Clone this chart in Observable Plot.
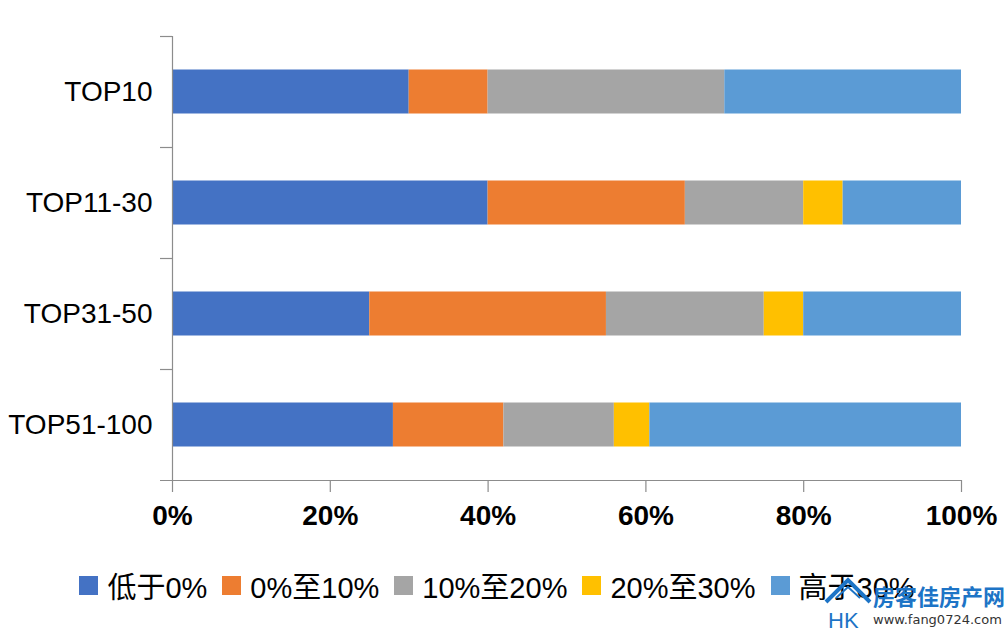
<!DOCTYPE html>
<html>
<head>
<meta charset="utf-8">
<script src="https://cdn.jsdelivr.net/npm/d3@7"></script>
<script src="https://cdn.jsdelivr.net/npm/@observablehq/plot@0.6"></script>
<style>
  body { margin: 0; background: #fff; font-family: "Liberation Sans", Arial, "Noto Sans CJK SC", sans-serif; }
  #wrap { position: relative; width: 1004px; height: 632px; overflow: hidden; }
  #legend { display: flex; justify-content: center; align-items: center; height: 40px; margin-top: 20px; padding-right: 10px;
            font-size: 29px; color: #000; font-family: "Liberation Sans", Arial, "Noto Sans CJK SC", sans-serif; }
  .item { display: flex; align-items: center; margin: 0 7.5px; }
  .sw { width: 19px; height: 19px; margin-right: 9px; }
  #wm { position: absolute; left: 824px; top: 572px; width: 180px; height: 60px; }
</style>
</head>
<body>
<div id="wrap">
  <div id="chart"></div>
  <div id="legend"></div>
  <div id="wm">
    <svg width="180" height="60" viewBox="0 0 180 60">
      <polyline points="2,30 24,8 46,30" fill="none" stroke="#1d74c6" stroke-width="4"/>
      <polyline points="12,26 24,15 36,26" fill="none" stroke="#1d74c6" stroke-width="2"/>
      <text x="4" y="56" font-family="Liberation Sans, Arial" font-size="22" fill="#1d74c6">HK</text>
      <text x="49" y="33" font-family="Noto Sans CJK SC" font-size="22" font-weight="bold" fill="#1d74c6">房客佳房产网</text>
      <text x="49" y="52" font-family="DejaVu Sans, sans-serif" font-size="13" fill="#333">www.fang0724.com</text>
    </svg>
  </div>
</div>
<script>
const categories = ["TOP10", "TOP11-30", "TOP31-50", "TOP51-100"];
const seriesNames = ["低于0%", "0%至10%", "10%至20%", "20%至30%", "高于30%"];
const below0   = [30, 40, 25, 28];
const p0to10   = [10, 25, 30, 14];
const p10to20  = [30, 15, 20, 14];
const p20to30  = [0, 5, 5, 4.5];
const above30  = [30, 15, 20, 39.5];
const xTicks = [0, 20, 40, 60, 80, 100];
const colors = ["#4472C4", "#ED7D31", "#A5A5A5", "#FFC000", "#5B9BD5"];

const seriesValues = [below0, p0to10, p10to20, p20to30, above30];
const table = [];
categories.forEach((c, i) => {
  seriesNames.forEach((s, j) => {
    table.push({category: c, series: s, value: seriesValues[j][i]});
  });
});

const W = 1004, H = 545, MT = 36, MB = 65, ML = 172, MR = 43;
const step = (H - MT - MB) / categories.length;
const barH = 44;
const inset = (step - barH) / 2;
const tickLen = 12 / (W - ML - MR) * 100;
const axisColor = "#8c8c8c";
const font = "'Liberation Sans', Arial, 'Noto Sans CJK SC', sans-serif";

const chart = Plot.plot({
  width: W, height: H,
  marginTop: MT, marginBottom: MB, marginLeft: ML, marginRight: MR,
  style: {fontFamily: font, background: "#fff"},
  x: {domain: [0, 100]},
  y: {domain: categories, padding: 0},
  color: {domain: seriesNames, range: colors},
  marks: [
    Plot.barX(table, Plot.stackX({x: "value", y: "category", fill: "series", order: seriesNames, insetTop: inset, insetBottom: inset})),
    Plot.ruleX([0], {stroke: axisColor, strokeWidth: 1.2}),
    Plot.ruleY(categories, {y: d => d, dy: -step / 2, x1: -tickLen, x2: 0, stroke: axisColor, strokeWidth: 1.2}),
    Plot.ruleY([categories[categories.length - 1]], {y: d => d, dy: step / 2, x1: -tickLen, x2: 100, stroke: axisColor, strokeWidth: 1.2}),
    Plot.axisX({ticks: xTicks, tickSize: 12, tickPadding: 13, tickFormat: d => d + "%", fontSize: 28, fontWeight: "bold", stroke: axisColor, strokeWidth: 1.2, fill: "#000", label: null}),
    Plot.axisY({tickSize: 0, tickPadding: 20, fontSize: 28, fill: "#000", label: null})
  ]
});
document.getElementById("chart").appendChild(chart);

const legend = document.getElementById("legend");
seriesNames.forEach((s, j) => {
  const it = document.createElement("div");
  it.className = "item";
  const sw = document.createElement("div");
  sw.className = "sw";
  sw.style.background = colors[j];
  const tx = document.createElement("span");
  tx.textContent = s;
  it.appendChild(sw); it.appendChild(tx);
  legend.appendChild(it);
});
</script>
</body>
</html>
